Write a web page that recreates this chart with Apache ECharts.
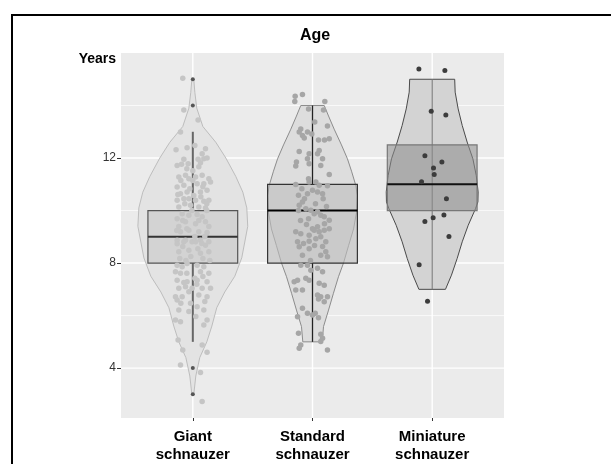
<!DOCTYPE html>
<html>
<head>
<meta charset="utf-8">
<script src="https://cdn.jsdelivr.net/npm/echarts@6/dist/echarts.min.js"></script>
<style>
  html, body { margin: 0; padding: 0; background: #fff; }
  #chart { width: 611px; height: 464px; }
</style>
</head>
<body>
<div id="chart"></div>
<script>
// categories and axis ticks
const categories = ['Giant\nschnauzer', 'Standard\nschnauzer', 'Miniature\nschnauzer']
const categoryPos = [1, 2, 3]
const yTicks = [4, 8, 12]
const yMinorGrid = [6, 10, 14]

// box stats: [low whisker, q1, median, q3, high whisker]
const giantBox = [5, 8, 9, 10, 13]
const standardBox = [5, 8, 10, 11, 14]
const miniatureBox = [7, 10, 11, 12.5, 15]
const giantOutliers = [15, 14, 4, 3]

// violin outlines: age and half width (in category units)
const giantViolinAge = [3.0, 3.7, 4.4, 5.0, 5.6, 6.3, 6.9, 7.5, 8.2, 8.8, 9.4, 10.1, 10.7, 11.3, 12.0, 12.6, 13.2, 13.9, 14.5, 15.0]
const giantViolinWidth = [0.008, 0.025, 0.058, 0.117, 0.159, 0.2, 0.267, 0.351, 0.409, 0.434, 0.459, 0.451, 0.418, 0.359, 0.276, 0.192, 0.084, 0.033, 0.017, 0.008]
const standardViolinAge = [5.0, 5.58, 6.21, 6.85, 7.48, 8.0, 8.66, 9.3, 9.94, 10.57, 11.0, 11.5, 11.97, 12.5, 13.1, 13.6, 14.0]
const standardViolinWidth = [0.081, 0.092, 0.134, 0.175, 0.217, 0.259, 0.301, 0.343, 0.368, 0.376, 0.359, 0.326, 0.292, 0.242, 0.181, 0.134, 0.098]
const miniatureViolinAge = [7.0, 7.54, 8.18, 8.81, 9.44, 10.07, 10.33, 10.71, 11.34, 11.97, 12.61, 13.24, 13.87, 14.51, 15.0]
const miniatureViolinWidth = [0.111, 0.161, 0.209, 0.251, 0.301, 0.362, 0.382, 0.384, 0.368, 0.340, 0.292, 0.251, 0.217, 0.192, 0.188]

// jittered dogs: horizontal offset from the category and age
const giantJitter = [-0.084, -0.075, 0.044, -0.103, -0.140, -0.048, 0.017, 0.106, 0.078, -0.075, -0.131, -0.094, -0.039, 0.044, 0.092, 0.119, 0.064, -0.061, -0.117, -0.033,
  0.023, 0.078, 0.134, -0.131, -0.075, 0.036, 0.092, 0.148, -0.103, -0.048, 0.064, 0.119, -0.131, -0.075, 0.023, 0.092, 0.134, -0.117, -0.019, 0.050,
  0.106, -0.089, -0.033, 0.036, 0.078, -0.131, -0.061, 0.023, 0.106, -0.103, -0.033, 0.050, 0.119, -0.131, -0.061, -0.006, 0.064, 0.134, -0.131, -0.075,
  0.023, 0.106, -0.117, -0.033, 0.064, 0.134, -0.131, -0.089, -0.048, 0.036, 0.092, -0.145, -0.103, 0.064, 0.134, -0.131, -0.048, 0.036, 0.119, -0.117,
  -0.061, -0.006, 0.078, 0.148, -0.033, -0.145, -0.089, 0.050, 0.119, -0.131, -0.019, 0.036, -0.117, 0.092, -0.145, -0.103, 0.119, 0.092, -0.123, 0.078,
  -0.084, 0.119, -0.103, 0.064, 0.078,
  -0.050, 0.000, 0.050, -0.100, 0.084, -0.025, 0.008, -0.067, 0.067, 0.117, -0.008, -0.117, 0.050, -0.050, 0.017, 0.100, -0.084, 0.042, -0.017, 0.084,
  -0.109, -0.050, 0.017, 0.084, -0.075, 0.100, -0.033, 0.025, -0.100, 0.142, -0.134, 0.134, 0.000, -0.084, 0.075, -0.033, 0.033, -0.058, 0.117, -0.125]
const giantAge = [15.04, 13.83, 13.45, 12.99, 12.32, 12.39, 12.48, 12.35, 12.16, 11.95, 11.72, 11.76, 11.78, 11.95, 11.97, 12.00, 11.82, 11.34, 11.28, 11.21,
  11.28, 11.34, 11.21, 10.90, 10.96, 11.02, 11.02, 11.09, 10.64, 10.71, 10.71, 10.77, 10.39, 10.45, 10.39, 10.35, 10.39, 10.14, 10.20, 10.14,
  10.10, 9.88, 9.82, 9.85, 9.76, 9.69, 9.57, 9.50, 9.57, 9.19, 9.25, 9.19, 9.16, 8.87, 8.87, 8.81, 8.87, 8.81, 8.74, 8.81,
  8.81, 8.68, 8.43, 8.49, 8.37, 8.43, 7.92, 7.86, 7.98, 7.92, 7.86, 7.67, 7.61, 7.67, 7.61, 7.35, 7.29, 7.35, 7.29, 7.04,
  7.10, 7.04, 7.04, 7.04, 6.91, 6.72, 6.72, 6.78, 6.72, 6.59, 6.47, 6.34, 6.21, 6.21, 5.83, 5.77, 5.83, 5.64, 5.07, 4.88,
  4.69, 4.60, 4.12, 3.83, 2.73,
  11.59, 11.52, 11.67, 11.14, 10.91, 10.83, 10.57, 10.26, 10.53, 10.00, 10.00, 9.39, 9.62, 9.31, 9.01, 9.01, 8.63, 8.55, 8.25, 8.17,
  8.17, 7.61, 7.42, 7.49, 7.26, 6.54, 6.16, 5.97, 6.47, 8.10, 9.24, 9.39, 11.14, 9.62, 8.75, 10.45, 7.19, 8.10, 10.26, 10.61]

const standardJitter = [-0.145, -0.084, -0.148, 0.103, 0.092, -0.033, 0.019, 0.125, -0.098, -0.111, -0.084, -0.069, -0.042, -0.006, 0.050, 0.100, 0.140, -0.111, -0.028, -0.042,
  -0.028, 0.056, 0.042, 0.084, 0.069, -0.134, -0.140, 0.140, -0.033, -0.028, 0.028, 0.056, 0.125, -0.140, -0.089, -0.117, -0.084, -0.111, -0.042, 0.000,
  0.042, 0.084, 0.089, -0.056, -0.014, 0.014, 0.042, 0.069, 0.098, 0.140, -0.033,
  -0.140, -0.098, -0.028, 0.014, 0.042, 0.056, 0.098, 0.140, -0.125, -0.028, 0.028, 0.069, 0.111, -0.111, -0.028, -0.084, 0.069, 0.125, 0.111, -0.098,
  -0.042, -0.014, 0.042, 0.084, -0.056, -0.028, -0.153, -0.125, -0.140, -0.084, 0.056, 0.098, 0.042, 0.069, 0.098, 0.125, 0.050, -0.084, -0.042, 0.000,
  0.023, -0.125, 0.050, -0.117, 0.069, 0.084, 0.069, -0.098, -0.111, 0.125,
  -0.067, 0.025, -0.100, 0.100, -0.050, 0.000, -0.075, 0.017, -0.117, 0.117, -0.017, 0.084]
const standardAge = [14.35, 14.42, 14.15, 14.15, 13.83, 13.87, 13.37, 13.22, 13.11, 12.99, 12.86, 12.76, 12.99, 12.92, 12.69, 12.69, 12.73, 12.25, 12.16, 11.97,
  11.78, 12.29, 12.16, 11.97, 11.72, 11.85, 11.70, 11.37, 11.21, 11.09, 11.09, 10.96, 10.94, 10.99, 10.83, 10.58, 10.33, 10.20, 10.64, 10.77,
  10.71, 10.64, 10.45, 10.07, 10.01, 9.88, 9.95, 9.82, 9.76, 9.63, 9.69,
  9.19, 9.12, 9.06, 9.25, 9.38, 9.19, 9.25, 9.31, 8.81, 8.83, 8.93, 9.00, 8.81, 8.62, 8.55, 8.30, 8.30, 8.24, 8.43, 7.92,
  7.92, 7.73, 7.80, 7.67, 7.42, 7.35, 7.29, 7.35, 6.97, 6.97, 7.23, 7.16, 6.78, 6.72, 6.53, 6.72, 6.63, 6.28, 6.09, 6.02,
  6.09, 5.96, 5.92, 5.33, 5.29, 5.14, 5.01, 4.88, 4.76, 4.69,
  10.45, 10.26, 9.62, 9.50, 9.47, 9.31, 8.75, 8.67, 10.00, 10.15, 8.10, 8.63]

const miniatureJitter = [-0.111, 0.106, -0.008, 0.114, -0.061, 0.081, 0.011, 0.017, -0.089, 0.119, 0.098, 0.008, -0.061, 0.140, -0.109, -0.039]
const miniatureAge = [15.39, 15.33, 13.78, 13.64, 12.09, 11.85, 11.62, 11.37, 11.10, 10.45, 9.83, 9.73, 9.58, 9.01, 7.94, 6.55]

const FONT = '"Liberation Sans", Arial, sans-serif'
const X_MIN = 0.4
const X_MAX = 3.6
const Y_MIN = 2.1
const Y_MAX = 16

const violinShapes = [
  { age: giantViolinAge, width: giantViolinWidth, fill: '#e3e3e3', stroke: '#bdbdbd' },
  { age: standardViolinAge, width: standardViolinWidth, fill: '#dddddd', stroke: '#8c8c8c' },
  { age: miniatureViolinAge, width: miniatureViolinWidth, fill: '#d3d3d3', stroke: '#4a4a4a' }
]
const boxStyles = [
  { fill: 'rgba(205,205,205,0.75)', stroke: '#555', median: '#333', whisker: '#666', whiskerWidth: 2, through: false },
  { fill: 'rgba(190,190,190,0.6)', stroke: '#333', median: '#000', whisker: '#222', whiskerWidth: 1.3, through: false },
  { fill: 'rgba(140,140,140,0.55)', stroke: '#777', median: '#111', whisker: '#777', whiskerWidth: 1, through: true }
]

const chart = echarts.init(document.getElementById('chart'))

// white panel grid, drawn under everything else
const renderGrid = (params, api) => {
  const hLine = (v, w) => {
    const a = api.coord([X_MIN, v])
    const b = api.coord([X_MAX, v])
    return { type: 'line', shape: { x1: a[0], y1: a[1], x2: b[0], y2: b[1] }, style: { stroke: '#fff', lineWidth: w } }
  }
  const vLine = (v, w) => {
    const a = api.coord([v, Y_MIN])
    const b = api.coord([v, Y_MAX])
    return { type: 'line', shape: { x1: a[0], y1: a[1], x2: b[0], y2: b[1] }, style: { stroke: '#fff', lineWidth: w } }
  }
  return {
    type: 'group',
    children: [
      ...yMinorGrid.map(v => hLine(v, 0.7)),
      ...yTicks.map(v => hLine(v, 1.4)),
      ...categoryPos.map(v => vLine(v, 1.4))
    ]
  }
}

const renderViolin = (params, api) => {
  const shape = violinShapes[params.dataIndex]
  const x = api.value(0)
  const points = []
  for (let k = 0; k < shape.age.length; k++) {
    points.push(api.coord([x + shape.width[k], shape.age[k]]))
  }
  for (let k = shape.age.length - 1; k >= 0; k--) {
    points.push(api.coord([x - shape.width[k], shape.age[k]]))
  }
  return {
    type: 'polygon',
    shape: { points },
    style: { fill: shape.fill, stroke: shape.stroke, lineWidth: 1 }
  }
}

const renderBox = (params, api) => {
  const s = boxStyles[params.dataIndex]
  const x = api.value(0)
  const half = 0.375
  const low = api.coord([x, api.value(1)])
  const q1 = api.coord([x, api.value(2)])
  const med = api.value(3)
  const q3 = api.coord([x, api.value(4)])
  const high = api.coord([x, api.value(5)])
  const left = api.coord([x - half, med])[0]
  const right = api.coord([x + half, med])[0]
  const medY = api.coord([x, med])[1]
  const whisker = { stroke: s.whisker, lineWidth: s.whiskerWidth }
  const whiskers = s.through
    ? [{ type: 'line', shape: { x1: low[0], y1: low[1], x2: high[0], y2: high[1] }, style: whisker }]
    : [
        { type: 'line', shape: { x1: low[0], y1: low[1], x2: q1[0], y2: q1[1] }, style: whisker },
        { type: 'line', shape: { x1: q3[0], y1: q3[1], x2: high[0], y2: high[1] }, style: whisker }
      ]
  return {
    type: 'group',
    children: [
      ...whiskers,
      { type: 'rect', shape: { x: left, y: q3[1], width: right - left, height: q1[1] - q3[1] }, style: { fill: s.fill, stroke: s.stroke, lineWidth: 1.2 } },
      { type: 'line', shape: { x1: left, y1: medY, x2: right, y2: medY }, style: { stroke: s.median, lineWidth: 2 } }
    ]
  }
}

const option = {
  animation: false,
  grid: {
    left: 121,
    top: 53,
    right: 107,
    bottom: 45,
    show: true,
    backgroundColor: '#ebebeb',
    borderWidth: 0
  },
  xAxis: {
    type: 'value',
    min: X_MIN,
    max: X_MAX,
    splitLine: { show: false },
    axisLine: { show: false },
    axisTick: { show: true, customValues: categoryPos, length: 3, lineStyle: { color: '#333' } },
    axisLabel: {
      customValues: categoryPos,
      formatter: v => categories[Math.round(v) - 1],
      fontFamily: FONT,
      fontWeight: 'bold',
      fontSize: 15,
      lineHeight: 18,
      color: '#000',
      margin: 10
    }
  },
  yAxis: {
    type: 'value',
    min: Y_MIN,
    max: Y_MAX,
    splitLine: { show: false },
    axisLine: { show: false },
    axisTick: { show: true, customValues: yTicks, length: 4, lineStyle: { color: '#333' } },
    axisLabel: {
      customValues: yTicks,
      fontFamily: FONT,
      fontSize: 12,
      color: '#333',
      margin: 5
    }
  },
  graphic: [
    { type: 'polyline', shape: { points: [[12, 464], [12, 15], [611, 15]] }, style: { stroke: '#000', lineWidth: 2, fill: null } },
    { type: 'text', x: 315, y: 36, style: { text: 'Age', font: 'bold 16px ' + FONT, fill: '#000', align: 'center', verticalAlign: 'middle' } },
    { type: 'text', x: 116, y: 59, style: { text: 'Years', font: 'bold 14px ' + FONT, fill: '#000', align: 'right', verticalAlign: 'middle' } }
  ],
  series: [
    {
      type: 'custom',
      z: 1,
      silent: true,
      renderItem: renderGrid,
      data: [[0]]
    },
    {
      type: 'custom',
      z: 2,
      renderItem: renderViolin,
      data: categoryPos.map(c => [c])
    },
    {
      type: 'custom',
      z: 3,
      renderItem: renderBox,
      data: [[1, ...giantBox], [2, ...standardBox], [3, ...miniatureBox]]
    },
    {
      type: 'scatter',
      z: 4,
      symbolSize: 5.5,
      itemStyle: { color: '#c5c5c5', opacity: 1 },
      data: giantJitter.map((d, i) => [1 + d, giantAge[i]])
    },
    {
      type: 'scatter',
      z: 4,
      symbolSize: 5.5,
      itemStyle: { color: '#a6a6a6', opacity: 1 },
      data: standardJitter.map((d, i) => [2 + d, standardAge[i]])
    },
    {
      type: 'scatter',
      z: 4,
      symbolSize: 5,
      itemStyle: { color: '#3c3c3c', opacity: 1 },
      data: miniatureJitter.map((d, i) => [3 + d, miniatureAge[i]])
    },
    {
      type: 'scatter',
      z: 5,
      symbolSize: 4,
      itemStyle: { color: '#555', opacity: 1 },
      data: giantOutliers.map(v => [1, v])
    }
  ]
}

chart.setOption(option)
window.addEventListener('resize', () => chart.resize())
</script>
</body>
</html>
